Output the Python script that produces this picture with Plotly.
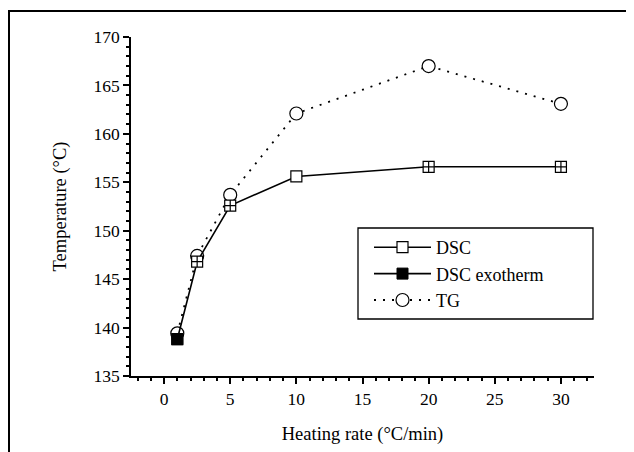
import plotly.graph_objects as go

dsc_x = [1, 2.5, 5, 10, 20, 30]
dsc_y = [138.8, 146.8, 152.6, 155.6, 156.6, 156.6]
dsc_sym = ["square", "square-cross", "square-cross", "square", "square-cross", "square-cross"]
exo_x = [1]
exo_y = [138.8]
tg_x = [1, 2.5, 5, 10, 20, 30]
tg_y = [139.4, 147.4, 153.7, 162.1, 167.0, 163.1]

FONT = "Liberation Serif"
OFF = 8  # page body margin
L, T = 131 - OFF, 37 - OFF
PW, PH = 463, 339
R = 634 - L - PW
B = 452 - T - PH

def px(x):
    return (x - OFF - L) / PW

def py(y):
    return (T + PH - (y - OFF)) / PH

fig = go.Figure()
fig.add_trace(go.Scatter(x=tg_x, y=tg_y, name="TG", mode="lines+markers", legendgroup="c", legendrank=3,
                         line=dict(color="black", width=1.8, dash="2px,7px"),
                         marker=dict(symbol="circle", size=13, color="white",
                                     line=dict(color="black", width=1.2))))
fig.add_trace(go.Scatter(x=dsc_x, y=dsc_y, name="DSC", mode="lines+markers", legendgroup="a", legendrank=1,
                         line=dict(color="black", width=1.6),
                         marker=dict(symbol=dsc_sym, size=11, color="white",
                                     line=dict(color="black", width=1.2))))
fig.add_trace(go.Scatter(x=exo_x, y=exo_y, name="DSC exotherm", mode="lines+markers", legendgroup="b", legendrank=2,
                         line=dict(color="black", width=1.6),
                         marker=dict(symbol="square", size=11, color="black",
                                     line=dict(color="black", width=1))))

axis_common = dict(showline=True, linecolor="black", linewidth=1.5, ticks="outside",
                   ticklen=6, tickwidth=1.5, tickcolor="black", showgrid=False, zeroline=False,
                   automargin=False,
                   tickfont=dict(family=FONT, size=17.5, color="black"),
                   minor=dict(ticks="outside", ticklen=3, tickwidth=1.5, tickcolor="black"))

fig.update_layout(
    width=634, height=452,
    margin=dict(l=L, r=R, t=T, b=B, autoexpand=False),
    plot_bgcolor="white", paper_bgcolor="white",
    font=dict(family=FONT, color="black"),
    xaxis=dict(range=[-2.5, 32.5], dtick=5, tick0=0,
               title=dict(text="Heating rate (°C/min)", font=dict(family=FONT, size=18.5), standoff=19),
               **axis_common),
    yaxis=dict(range=[135, 170], dtick=5, tick0=135,
               title=dict(text="Temperature (°C)", font=dict(family=FONT, size=18.5), standoff=22),
               **axis_common),
    showlegend=True,
    legend=dict(x=px(369), y=py(229), xanchor="left", yanchor="top",
                traceorder="grouped", tracegroupgap=0,
                borderwidth=0, bgcolor="rgba(0,0,0,0)",
                font=dict(family=FONT, size=18, color="black"),
                itemwidth=57),
    shapes=[dict(type="rect", xref="paper", yref="paper",
                 x0=px(9), x1=px(700), y0=py(500), y1=py(11),
                 line=dict(color="black", width=2)),
            dict(type="rect", xref="paper", yref="paper", layer="below",
                 x0=px(358), x1=px(593), y0=py(319), y1=py(228),
                 line=dict(color="black", width=1.3), fillcolor="white")],
)
fig.write_html("out.html")
